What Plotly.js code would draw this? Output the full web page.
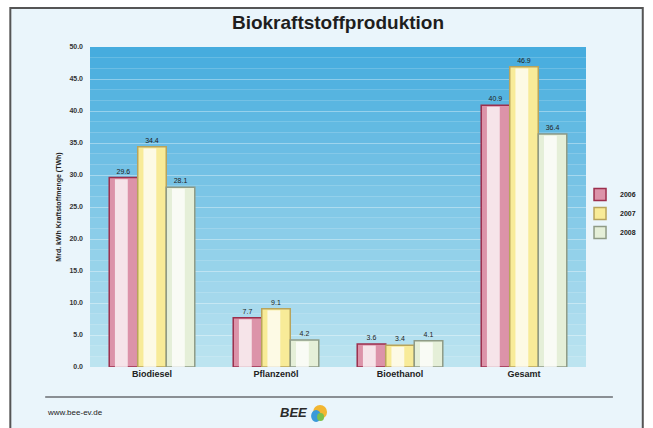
<!DOCTYPE html>
<html>
<head>
<meta charset="utf-8">
<script src="https://cdn.plot.ly/plotly-3.0.1.min.js"></script>
<style>html,body{margin:0;padding:0;background:#fff;}#chart{width:653px;height:428px;}</style>
</head>
<body>
<div id="chart"></div>
<script>
// ---- data ----
var categories = ["Biodiesel", "Pflanzenöl", "Bioethanol", "Gesamt"];
var years = ["2006", "2007", "2008"];
var values2006 = [29.6, 7.7, 3.6, 40.9];
var values2007 = [34.4, 9.1, 3.4, 46.9];
var values2008 = [28.1, 4.2, 4.1, 36.4];
var yTickValues = [0, 5, 10, 15, 20, 25, 30, 35, 40, 45, 50];

// ---- layout geometry ----
var W = 653, H = 428;
var M = {l: 90, r: 65, t: 47, b: 61};
var pw = W - M.l - M.r, ph = H - M.t - M.b;
function px(x) { return (x - M.l) / pw; }
function py(y) { return (H - M.b - y) / ph; }

var fills = ["#dc93a9", "#f8eb98", "#e5efd8"];
var lines = ["#9c2f4d", "#b8a45c", "#8f9b86"];
var series = [values2006, values2007, values2008];
var barW = 0.23;
var offsets = [-0.345, -0.115, 0.115];

var traces = [];
series.forEach(function (vals, i) {
  traces.push({
    type: "bar",
    name: years[i],
    x: categories,
    y: vals,
    width: barW,
    offset: offsets[i],
    marker: {color: fills[i], line: {color: lines[i], width: 1.5}},
    text: vals.map(function (v) { return v.toFixed(1); }),
    textposition: "outside",
    cliponaxis: false,
    textfont: {size: 7, color: "#222", family: "Liberation Sans, Arial"},
    hoverinfo: "skip"
  });
});
// white highlight stripe inside each bar
series.forEach(function (vals, i) {
  traces.push({
    type: "bar",
    name: years[i] + " highlight",
    showlegend: false,
    x: categories,
    y: vals.map(function (v) { return v - 0.25; }),
    width: barW * 0.45,
    offset: offsets[i] + barW * 0.2,
    marker: {color: "rgba(255,255,255,0.75)", line: {width: 0}},
    hoverinfo: "skip"
  });
});

// gradient background bands
var shapes = [];
var nBands = 30;
var gradTop = [70, 172, 222], gradBot = [188, 228, 240];
for (var k = 0; k < nBands; k++) {
  var f = k / (nBands - 1);
  var c = gradTop.map(function (t, j) { return Math.round(t + (gradBot[j] - t) * f); });
  shapes.push({
    type: "rect", xref: "x domain", yref: "y domain",
    x0: 0, x1: 1, y0: 1 - (k + 1) / nBands, y1: 1 - k / nBands,
    fillcolor: "rgb(" + c.join(",") + ")", line: {width: 0}, layer: "below"
  });
}
// outer frame
shapes.unshift({
  type: "rect", xref: "paper", yref: "paper",
  x0: px(10), x1: px(645), y0: py(440), y1: py(8),
  fillcolor: "#eaf5fb", line: {color: "#555", width: 2}, layer: "below"
});
// bottom separator line
shapes.push({
  type: "line", xref: "paper", yref: "paper",
  x0: px(45), x1: px(615), y0: py(397), y1: py(397),
  line: {color: "#8a8f94", width: 2}
});
// BEE logo
shapes.push({type: "circle", xref: "paper", yref: "paper",
  x0: px(314), x1: px(328), y0: py(419), y1: py(405),
  fillcolor: "#f2b631", line: {width: 0}});
shapes.push({type: "circle", xref: "paper", yref: "paper",
  x0: px(312), x1: px(322), y0: py(422), y1: py(410),
  fillcolor: "#3a9ad9", line: {width: 0}});
shapes.push({type: "circle", xref: "paper", yref: "paper",
  x0: px(318), x1: px(325), y0: py(421), y1: py(413),
  fillcolor: "#7cc04b", line: {width: 0}});

var layout = {
  width: W, height: H,
  margin: M,
  paper_bgcolor: "#ffffff",
  plot_bgcolor: "rgba(0,0,0,0)",
  font: {family: "Liberation Sans, Arial", color: "#222"},
  title: {
    text: "<b>Biokraftstoffproduktion</b>",
    x: 0.5, xref: "paper", xanchor: "center",
    y: 1 - 22 / H, yanchor: "middle",
    font: {size: 19, color: "#1e1e1e", family: "Liberation Sans, Arial"}
  },
  barmode: "overlay",
  xaxis: {
    type: "category",
    range: [-0.5, 3.5],
    showgrid: false, zeroline: false, showline: false,
    ticks: "", ticklen: 0,
    tickfont: {size: 9, color: "#222"},
    tickvals: categories,
    ticktext: categories.map(function (c) { return "<b>" + c + "</b>"; })
  },
  yaxis: {
    range: [0, 50],
    tickvals: yTickValues,
    ticktext: yTickValues.map(function (v) { return "<b>" + v.toFixed(1) + "</b>"; }),
    tickfont: {size: 7, color: "#333"},
    showgrid: true, gridcolor: "rgba(255,255,255,0.35)", gridwidth: 1,
    zeroline: false, showline: false,
    ticks: "", ticklabelstandoff: 6,
    title: {text: "<b>Mrd. kWh Kraftstoffmenge (TWh)</b>", font: {size: 7, color: "#222"}, standoff: 6}
  },
  showlegend: true,
  legend: {
    x: px(582), y: py(180), xanchor: "left", yanchor: "top",
    bgcolor: "rgba(0,0,0,0)",
    font: {size: 7, color: "#222", weight: "bold"},
    itemwidth: 30, tracegroupgap: 0
  },
  shapes: shapes,
  annotations: [
    {text: "www.bee-ev.de", xref: "paper", yref: "paper", x: px(45), y: py(412),
     xanchor: "left", yanchor: "middle", showarrow: false,
     font: {size: 8, color: "#222"}},
    {text: "<b><i>BEE</i></b>", xref: "paper", yref: "paper", x: px(310), y: py(412),
     xanchor: "right", yanchor: "middle", showarrow: false,
     font: {size: 13, color: "#2a2a2a"}}
  ]
};

Plotly.newPlot("chart", traces, layout, {displayModeBar: false, staticPlot: true});
</script>
</body>
</html>
